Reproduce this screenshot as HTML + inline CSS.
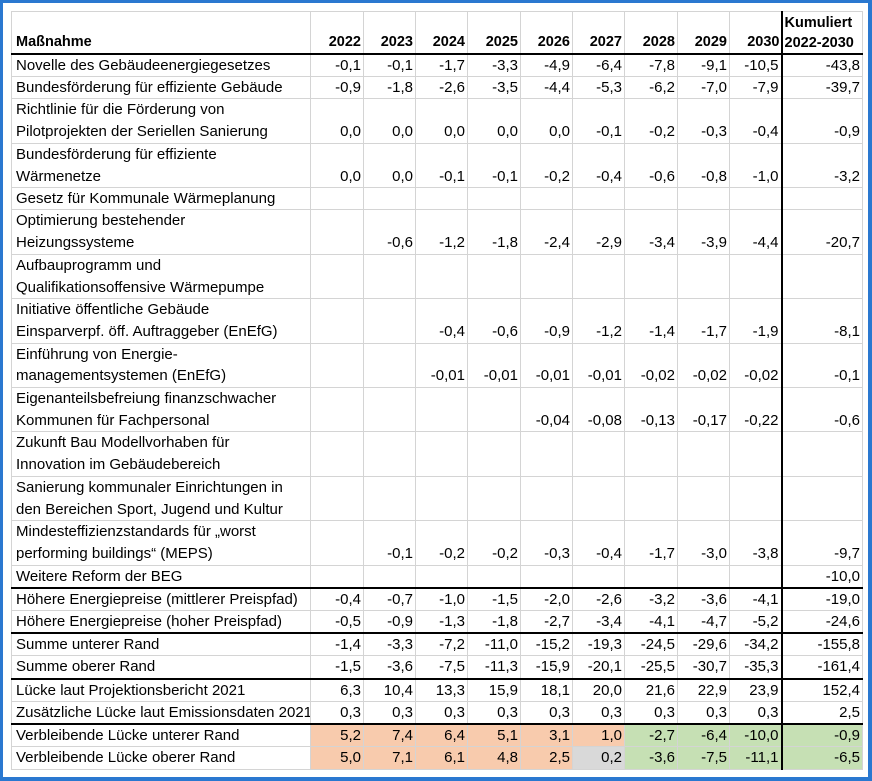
<!DOCTYPE html>
<html><head><meta charset="utf-8"><style>
*{margin:0;padding:0;box-sizing:border-box}
html,body{width:872px;height:781px;background:#fff;overflow:hidden}
.frame{position:absolute;left:0;top:0;width:872px;height:781px;border:3px solid #2a78d0;border-bottom-width:4px;border-right-width:4px;z-index:2;pointer-events:none}
table{position:absolute;left:11px;top:11px;width:851px;border-collapse:collapse;table-layout:fixed;font-family:"Liberation Sans",sans-serif;font-size:15px;color:#000}
td{border:1px solid #d4d4d4;padding:0 2px;vertical-align:bottom;text-align:right;line-height:21.2px;height:21.2px;white-space:nowrap;overflow:hidden}
td:first-child{text-align:left;padding-left:4px;padding-right:0}
tr.d td{height:43.5px;line-height:21.7px}
tr.h td{height:42.5px;font-weight:bold;font-size:14.5px}
tr.tb td{border-bottom:2.5px solid #000}
tr.dot td{border-bottom:1.5px dotted #555}
td.k{border-left:2.5px solid #000}
.o{background:#f8cbad}.g{background:#c6e0b4}.y{background:#d9d9d9}
</style></head><body>
<div class="frame"></div>
<table>
<colgroup><col style="width:299px"><col style="width:53px"><col style="width:52px"><col style="width:52px"><col style="width:53px"><col style="width:52px"><col style="width:52px"><col style="width:53px"><col style="width:52px"><col style="width:52px"><col style="width:81px"></colgroup>
<tr class="h tb"><td>Maßnahme</td><td>2022</td><td>2023</td><td>2024</td><td>2025</td><td>2026</td><td>2027</td><td>2028</td><td>2029</td><td style="padding-right:1px">2030</td><td class="k" style="text-align:left;line-height:20px">Kumuliert<br>2022-2030</td></tr>
<tr><td>Novelle des Gebäudeenergiegesetzes</td><td>-0,1</td><td>-0,1</td><td>-1,7</td><td>-3,3</td><td>-4,9</td><td>-6,4</td><td>-7,8</td><td>-9,1</td><td>-10,5</td><td class="k">-43,8</td></tr>
<tr><td>Bundesförderung für effiziente Gebäude</td><td>-0,9</td><td>-1,8</td><td>-2,6</td><td>-3,5</td><td>-4,4</td><td>-5,3</td><td>-6,2</td><td>-7,0</td><td>-7,9</td><td class="k">-39,7</td></tr>
<tr class="d"><td>Richtlinie für die Förderung von<br>Pilotprojekten der Seriellen Sanierung</td><td>0,0</td><td>0,0</td><td>0,0</td><td>0,0</td><td>0,0</td><td>-0,1</td><td>-0,2</td><td>-0,3</td><td>-0,4</td><td class="k">-0,9</td></tr>
<tr class="d"><td>Bundesförderung für effiziente<br>Wärmenetze</td><td>0,0</td><td>0,0</td><td>-0,1</td><td>-0,1</td><td>-0,2</td><td>-0,4</td><td>-0,6</td><td>-0,8</td><td>-1,0</td><td class="k">-3,2</td></tr>
<tr><td>Gesetz für Kommunale Wärmeplanung</td><td></td><td></td><td></td><td></td><td></td><td></td><td></td><td></td><td></td><td class="k"></td></tr>
<tr class="d"><td>Optimierung bestehender<br>Heizungssysteme</td><td></td><td>-0,6</td><td>-1,2</td><td>-1,8</td><td>-2,4</td><td>-2,9</td><td>-3,4</td><td>-3,9</td><td>-4,4</td><td class="k">-20,7</td></tr>
<tr class="d"><td>Aufbauprogramm und<br>Qualifikationsoffensive Wärmepumpe</td><td></td><td></td><td></td><td></td><td></td><td></td><td></td><td></td><td></td><td class="k"></td></tr>
<tr class="d"><td>Initiative öffentliche Gebäude<br>Einsparverpf. öff. Auftraggeber (EnEfG)</td><td></td><td></td><td>-0,4</td><td>-0,6</td><td>-0,9</td><td>-1,2</td><td>-1,4</td><td>-1,7</td><td>-1,9</td><td class="k">-8,1</td></tr>
<tr class="d"><td>Einführung von Energie-<br>managementsystemen (EnEfG)</td><td></td><td></td><td>-0,01</td><td>-0,01</td><td>-0,01</td><td>-0,01</td><td>-0,02</td><td>-0,02</td><td>-0,02</td><td class="k">-0,1</td></tr>
<tr class="d"><td>Eigenanteilsbefreiung finanzschwacher<br>Kommunen für Fachpersonal</td><td></td><td></td><td></td><td></td><td>-0,04</td><td>-0,08</td><td>-0,13</td><td>-0,17</td><td>-0,22</td><td class="k">-0,6</td></tr>
<tr class="d"><td>Zukunft Bau Modellvorhaben für<br>Innovation im Gebäudebereich</td><td></td><td></td><td></td><td></td><td></td><td></td><td></td><td></td><td></td><td class="k"></td></tr>
<tr class="d dot"><td>Sanierung kommunaler Einrichtungen in<br>den Bereichen Sport, Jugend und Kultur</td><td></td><td></td><td></td><td></td><td></td><td></td><td></td><td></td><td></td><td class="k"></td></tr>
<tr class="d"><td>Mindesteffizienzstandards für „worst<br>performing buildings“ (MEPS)</td><td></td><td>-0,1</td><td>-0,2</td><td>-0,2</td><td>-0,3</td><td>-0,4</td><td>-1,7</td><td>-3,0</td><td>-3,8</td><td class="k">-9,7</td></tr>
<tr class="tb"><td>Weitere Reform der BEG</td><td></td><td></td><td></td><td></td><td></td><td></td><td></td><td></td><td></td><td class="k">-10,0</td></tr>
<tr><td>Höhere Energiepreise (mittlerer Preispfad)</td><td>-0,4</td><td>-0,7</td><td>-1,0</td><td>-1,5</td><td>-2,0</td><td>-2,6</td><td>-3,2</td><td>-3,6</td><td>-4,1</td><td class="k">-19,0</td></tr>
<tr class="tb"><td>Höhere Energiepreise (hoher Preispfad)</td><td>-0,5</td><td>-0,9</td><td>-1,3</td><td>-1,8</td><td>-2,7</td><td>-3,4</td><td>-4,1</td><td>-4,7</td><td>-5,2</td><td class="k">-24,6</td></tr>
<tr><td>Summe unterer Rand</td><td>-1,4</td><td>-3,3</td><td>-7,2</td><td>-11,0</td><td>-15,2</td><td>-19,3</td><td>-24,5</td><td>-29,6</td><td>-34,2</td><td class="k">-155,8</td></tr>
<tr class="tb"><td>Summe oberer Rand</td><td>-1,5</td><td>-3,6</td><td>-7,5</td><td>-11,3</td><td>-15,9</td><td>-20,1</td><td>-25,5</td><td>-30,7</td><td>-35,3</td><td class="k">-161,4</td></tr>
<tr><td>Lücke laut Projektionsbericht 2021</td><td>6,3</td><td>10,4</td><td>13,3</td><td>15,9</td><td>18,1</td><td>20,0</td><td>21,6</td><td>22,9</td><td>23,9</td><td class="k">152,4</td></tr>
<tr class="tb"><td>Zusätzliche Lücke laut Emissionsdaten 2021</td><td>0,3</td><td>0,3</td><td>0,3</td><td>0,3</td><td>0,3</td><td>0,3</td><td>0,3</td><td>0,3</td><td>0,3</td><td class="k">2,5</td></tr>
<tr><td>Verbleibende Lücke unterer Rand</td><td class="o">5,2</td><td class="o">7,4</td><td class="o">6,4</td><td class="o">5,1</td><td class="o">3,1</td><td class="o">1,0</td><td class="g">-2,7</td><td class="g">-6,4</td><td class="g">-10,0</td><td class="k g">-0,9</td></tr>
<tr><td>Verbleibende Lücke oberer Rand</td><td class="o">5,0</td><td class="o">7,1</td><td class="o">6,1</td><td class="o">4,8</td><td class="o">2,5</td><td class="y">0,2</td><td class="g">-3,6</td><td class="g">-7,5</td><td class="g">-11,1</td><td class="k g">-6,5</td></tr>
</table>
</body></html>
